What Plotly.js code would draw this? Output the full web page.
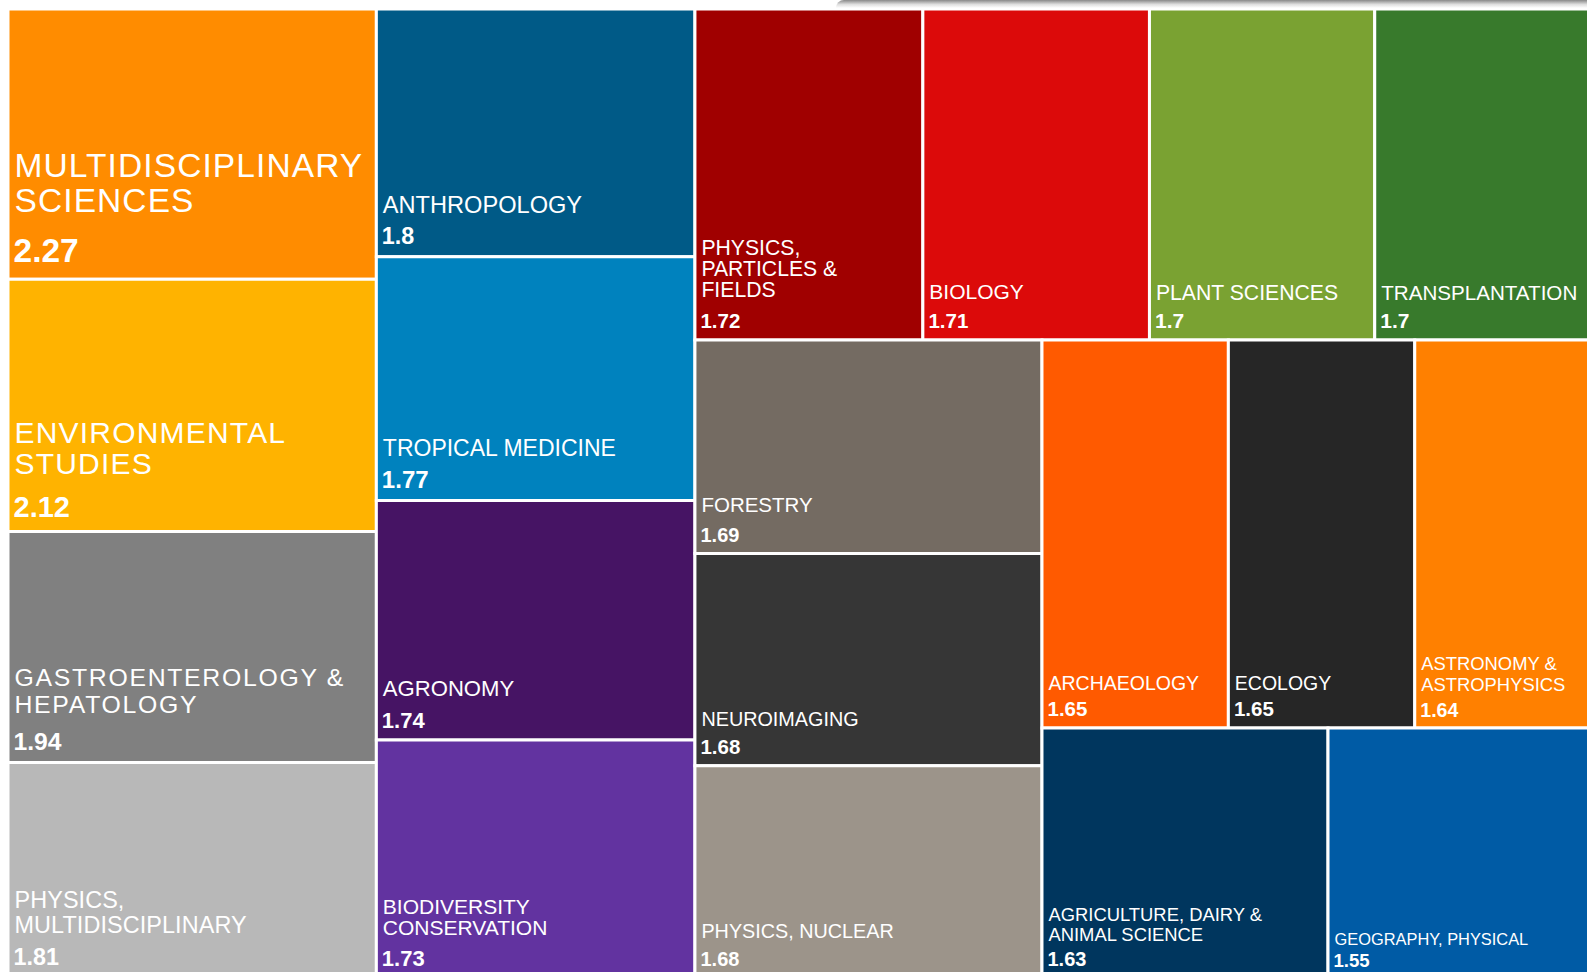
<!DOCTYPE html>
<html>
<head>
<meta charset="utf-8">
<script src="https://cdn.plot.ly/plotly-3.0.1.min.js"></script>
<style>
html,body{margin:0;padding:0;overflow:hidden;background:#fff;width:1587px;height:972px;}
#chart{position:absolute;left:0;top:0;width:1600px;height:978px;}
#shadow{position:absolute;left:836px;top:0;width:760px;height:8px;
  background:linear-gradient(to bottom, rgba(130,130,130,0.95), rgba(190,190,190,0.5) 55%, rgba(255,255,255,0));
  border-top-left-radius:8px;}
</style>
</head>
<body>
<div id="chart"></div>
<div id="shadow"></div>
<script>
// ---- data ----
const categories = [
  'MULTIDISCIPLINARY SCIENCES', 'ENVIRONMENTAL STUDIES', 'GASTROENTEROLOGY & HEPATOLOGY',
  'PHYSICS, MULTIDISCIPLINARY', 'ANTHROPOLOGY', 'TROPICAL MEDICINE', 'AGRONOMY',
  'BIODIVERSITY CONSERVATION', 'PHYSICS, PARTICLES & FIELDS', 'BIOLOGY', 'PLANT SCIENCES',
  'TRANSPLANTATION', 'FORESTRY', 'NEUROIMAGING', 'PHYSICS, NUCLEAR', 'ARCHAEOLOGY',
  'ECOLOGY', 'ASTRONOMY & ASTROPHYSICS', 'AGRICULTURE, DAIRY & ANIMAL SCIENCE',
  'GEOGRAPHY, PHYSICAL'
];
const scores = [2.27, 2.12, 1.94, 1.81, 1.8, 1.77, 1.74, 1.73, 1.72, 1.71, 1.7, 1.7,
  1.69, 1.68, 1.68, 1.65, 1.65, 1.64, 1.63, 1.55];
// displayed label text (line breaks as in the picture)
const tileText = [
  'MULTIDISCIPLINARY<br>SCIENCES', 'ENVIRONMENTAL<br>STUDIES', 'GASTROENTEROLOGY &amp;<br>HEPATOLOGY',
  'PHYSICS,<br>MULTIDISCIPLINARY', 'ANTHROPOLOGY', 'TROPICAL MEDICINE', 'AGRONOMY',
  'BIODIVERSITY<br>CONSERVATION', 'PHYSICS,<br>PARTICLES &amp;<br>FIELDS', 'BIOLOGY', 'PLANT SCIENCES',
  'TRANSPLANTATION', 'FORESTRY', 'NEUROIMAGING', 'PHYSICS, NUCLEAR', 'ARCHAEOLOGY',
  'ECOLOGY', 'ASTRONOMY &amp;<br>ASTROPHYSICS', 'AGRICULTURE, DAIRY &amp;<br>ANIMAL SCIENCE',
  'GEOGRAPHY, PHYSICAL'
];

// ---- style ----
const tileColors = ['#FF8C00', '#FFB300', '#808080', '#B8B8B8', '#005A87', '#0082BE', '#461464',
  '#6233A0', '#A00000', '#DC0A0A', '#7AA232', '#387A2C', '#746B62', '#363636', '#9C948A',
  '#FF5A00', '#262626', '#FF8000', '#00365E', '#005BA5'];
const labelSize = [33.5, 30, 24.8, 23.4, 23.6, 23, 22.1, 21, 21.2, 21, 21.2, 20.6, 20.5, 19.8, 19.8, 19.5, 19.5, 18.4, 18.4, 16.4];
const letterSpacing = [1.1, 1.2, 1.7, 0.1, 0, 0, 0, 0, 0, 0, 0, 0, 0, 0, 0, 0, 0, 0, 0, 0];
const valueSize = [33.5, 29, 24.7, 23.3, 23.3, 24, 22, 22, 20.5, 20.5, 21, 21, 20, 20.5, 20, 20.5, 20.5, 19.6, 20, 18.6];
const lineGap   = [35, 30.7, 27, 25, 25, 24.4, 23.3, 21.7, 21, 22.3, 22.6, 21, 21.7, 20.7, 20.9, 20.5, 20.5, 21.7, 20, 17];
const valueGap  = [49, 43.3, 37, 32, 31, 31, 31.7, 30, 30.7, 29, 27.3, 27.3, 29.3, 27.3, 27.7, 26.3, 26.3, 24.7, 25, 21];

const FONT = '"Liberation Sans", Arial, sans-serif';
const parents = categories.map(() => '');

const labelTexts = [], labelBase = [], valueTexts = [], valueBase = [];
categories.forEach((c, i) => {
  const V = 0.3 * valueSize[i] + 4.5 + (valueSize[i] > 30 ? 1.5 : 0);   // value baseline above tile bottom
  const LS = lineGap[i], G = valueGap[i];
  const lead = '<span style="font-size:12.5px">&nbsp;</span>';
  const lines = tileText[i].split('<br>').map(l => lead + '<span style="font-size:' + labelSize[i] +
    'px;letter-spacing:' + letterSpacing[i] + 'px">' + l + '</span>');
  const t = Math.max(2, (V + G - 1.5 - LS) / 0.212);
  labelTexts.push(lines.join('<br>') + '<br><span style="font-size:' + t.toFixed(2) + 'px">&nbsp;</span>');
  labelBase.push(LS / 1.3);
  const vb = (V - 1.92) / 1.3;
  valueTexts.push('<span style="font-size:9px">&nbsp;</span><span style="font-size:' + valueSize[i] +
    'px;font-weight:bold">' + String(scores[i]) + '</span><br><span style="font-size:2px">&nbsp;</span>');
  valueBase.push(vb);
});

const common = {
  type: 'treemap',
  labels: categories,
  parents: parents,
  values: scores,
  sort: true,
  textinfo: 'text',
  textposition: 'bottom left',
  tiling: {packing: 'squarify', squarifyratio: 1.618034, pad: 0},
  pathbar: {visible: false},
  domain: {x: [0, 1], y: [0, 1]}
};

const tilesTrace = Object.assign({}, common, {
  text: labelTexts,
  marker: {colors: tileColors, line: {color: '#ffffff', width: 3}, pad: {t: 0, l: 0, r: 0, b: 0}, cornerradius: 2},
  textfont: {family: FONT, size: labelBase, color: '#ffffff'},
  insidetextfont: {family: FONT, size: labelBase, color: '#ffffff'},
  hovertemplate: '%{label}: %{value}<extra></extra>'
});

const valuesTrace = Object.assign({}, common, {
  text: valueTexts,
  marker: {colors: categories.map(() => 'rgba(0,0,0,0)'), line: {color: 'rgba(0,0,0,0)', width: 0}, pad: {t: 0, l: 0, r: 0, b: 0}},
  textfont: {family: FONT, size: valueBase, color: '#ffffff'},
  insidetextfont: {family: FONT, size: valueBase, color: '#ffffff'},
  hoverinfo: 'skip'
});

Plotly.newPlot('chart', [tilesTrace, valuesTrace], {
  width: 1600,
  height: 978,
  margin: {l: 7.5, r: 0, t: 9, b: 0},
  paper_bgcolor: '#ffffff',
  font: {family: FONT},
  showlegend: false
}, {displayModeBar: false, staticPlot: true});
</script>
</body>
</html>
